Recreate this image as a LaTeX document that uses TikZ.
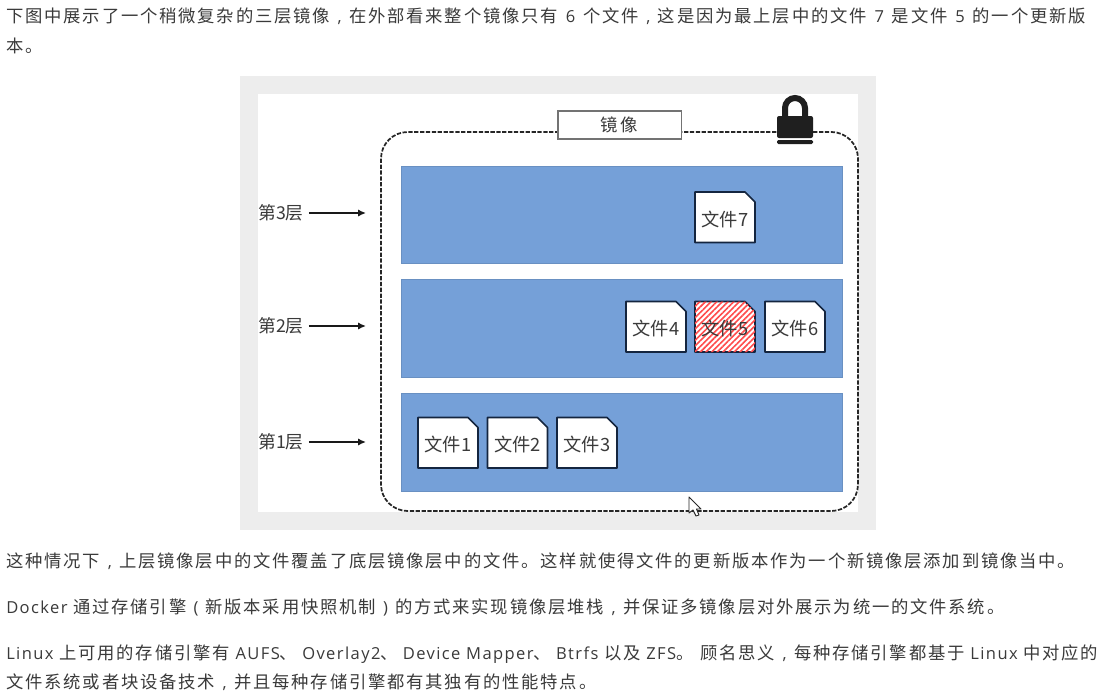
\documentclass[tikz,border=0pt]{standalone}
\usepackage{fontspec}
\setmainfont{Noto Sans CJK SC}
\newfontfamily\bodyfont[LetterSpace=10.5]{Noto Sans CJK SC}
\newfontfamily\latfont[LetterSpace=8.5]{Open Sans}
\newfontfamily\labelfont{Noto Sans CJK SC}
\newcommand{\lat}[1]{{\fontsize{12.4pt}{15pt}\selectfont\latfont #1}}
\newcommand{\cellpunct}[1]{\makebox[14.36pt][c]{\lat{#1}}}
\newcommand{\leftpunct}[2][16.8pt]{\makebox[#1][l]{#2}}
\newcommand{\digit}[1]{\hspace{1.6pt}\lat{ #1 }\hspace{1.6pt}}
\usetikzlibrary{patterns.meta,arrows.meta}
\definecolor{band}{HTML}{75A0D8}
\definecolor{ink}{HTML}{3A3A3A}
\definecolor{edge}{HTML}{14253F}
\tikzset{
  para/.style={anchor=base west,inner sep=0pt,text=ink,font=\fontsize{13pt}{15pt}\selectfont\bodyfont},
  layerband/.style={fill=band,draw=band!90!black,line width=0.4pt},
  layerlabel/.style={anchor=west,inner sep=0pt,text=ink,font=\fontsize{13.3pt}{15pt}\selectfont\labelfont},
  layerarrow/.style={line width=1.3pt,-{Latex[length=6pt,width=5.5pt]},black!90},
  filetext/.style={inner sep=0pt,text=ink,font=\fontsize{13.7pt}{15pt}\selectfont\labelfont},
  fileshape/.style={fill=white,draw=edge,line width=1.2pt,line join=round},
  hatched/.style={pattern={Lines[angle=45,distance=3pt,line width=1.2pt]},pattern color=red!70!white},
}
% \filebox{name}{left}{top}{text}{extra style}
\newcommand{\filebox}[5]{%
  \path[fileshape] (#2,#3) -- ++(50,0) -- ++(10,10) -- ++(0,40.5) -- ++(-60,0) -- cycle;
  \ifx#5\relax\else\path[hatched] (#2,#3) -- ++(50,0) -- ++(10,10) -- ++(0,40.5) -- ++(-60,0) -- cycle;\fi
  \node[filetext] (#1) at (#2+30,#3+27) {#4};}
\begin{document}
\begin{tikzpicture}[x=0.75pt,y=-0.75pt]
\useasboundingbox (0,0) rectangle (1104,696);
\fill[white] (0,0) rectangle (1104,696);
% body text
\node[para] (p1) at (6,22) {下图中展示了一个稍微复杂的三层镜像\cellpunct{,}在外部看来整个镜像只有\digit{6}个文件\cellpunct{,}这是因为最上层中的文件\digit{7}是文件\digit{5}的一个更新版};
\node[para] (p2) at (6,52) {本。};
\node[para] (p3) at (6,567) {这种情况下\cellpunct{,}上层镜像层中的文件覆盖了底层镜像层中的文件。这样就使得文件的更新版本作为一个新镜像层添加到镜像当中。};
\node[para] (p4) at (6,613) {\lat{Docker }通过存储引擎\cellpunct{(}新版本采用快照机制\cellpunct{)}的方式来实现镜像层堆栈\cellpunct{,}并保证多镜像层对外展示为统一的文件系统。};
\node[para] (p5) at (6,659) {\lat{Linux }上可用的存储引擎有\lat{ AUFS}\leftpunct{、}\lat{Overlay2}\leftpunct{、}\lat{Device Mapper}\leftpunct{、}\lat{Btrfs }以及\lat{ ZFS}\leftpunct[18pt]{。}顾名思义\cellpunct{,}每种存储引擎都基于\lat{ Linux }中对应的};
\node[para] (p6) at (6,688) {文件系统或者块设备技术\cellpunct{,}并且每种存储引擎都有其独有的性能特点。};
% figure panel
\fill[black!7] (240,76) rectangle (876,530);
\fill[white] (258,94) rectangle (858,512);
% image outline
\draw[black!85,line width=1.3pt,dash pattern=on 3.2pt off 1.2pt,rounded corners=20pt] (381,132) rectangle (858,511);
% title
\node[draw=black!55,fill=white,line width=1pt,minimum width=92.5pt,minimum height=21pt,inner sep=0pt,text=ink,font=\fontsize{13pt}{15pt}\selectfont\labelfont] (title) at (619.5,125) {镜\,像};
% bands
\path[layerband] (401,166) rectangle (842,263);
\path[layerband] (401,279) rectangle (842,377);
\path[layerband] (401,393) rectangle (842,491);
% lock
\draw[black!88,line width=4.5pt] (785,119) -- (785,108) arc[start angle=180,end angle=360,x radius=10,y radius=10] -- (805,119);
\fill[black!88,rounded corners=1.5pt] (777,116) rectangle (813,138);
\fill[black!88,rounded corners=1pt] (777,140) rectangle (813,144);
% layer labels and arrows
\node[layerlabel] (l3) at (258,213) {第3层};
\coordinate (a3) at (366,213);
\draw[layerarrow] (l3.east) ++(5,0) -- (a3);
\node[layerlabel] (l2) at (258,326) {第2层};
\coordinate (a2) at (366,326);
\draw[layerarrow] (l2.east) ++(5,0) -- (a2);
\node[layerlabel] (l1) at (258,442) {第1层};
\coordinate (a1) at (366,442);
\draw[layerarrow] (l1.east) ++(5,0) -- (a1);
% files
\filebox{f7}{695}{192}{文件7}{\relax}
\filebox{f4}{626}{301.5}{文件4}{\relax}
\filebox{f5}{695}{301.5}{文件5}{x}
\filebox{f6}{765}{301.5}{文件6}{\relax}
\filebox{f1}{418}{417.5}{文件1}{\relax}
\filebox{f2}{487.5}{417.5}{文件2}{\relax}
\filebox{f3}{557}{417.5}{文件3}{\relax}
% mouse pointer
\draw[fill=white,draw=black!85,line width=0.7pt,line join=round] (689,497) -- (689,513) -- (693,510) -- (696,516) -- (699,515) -- (696.5,509) -- (701,509) -- cycle;
\end{tikzpicture}
\end{document}
